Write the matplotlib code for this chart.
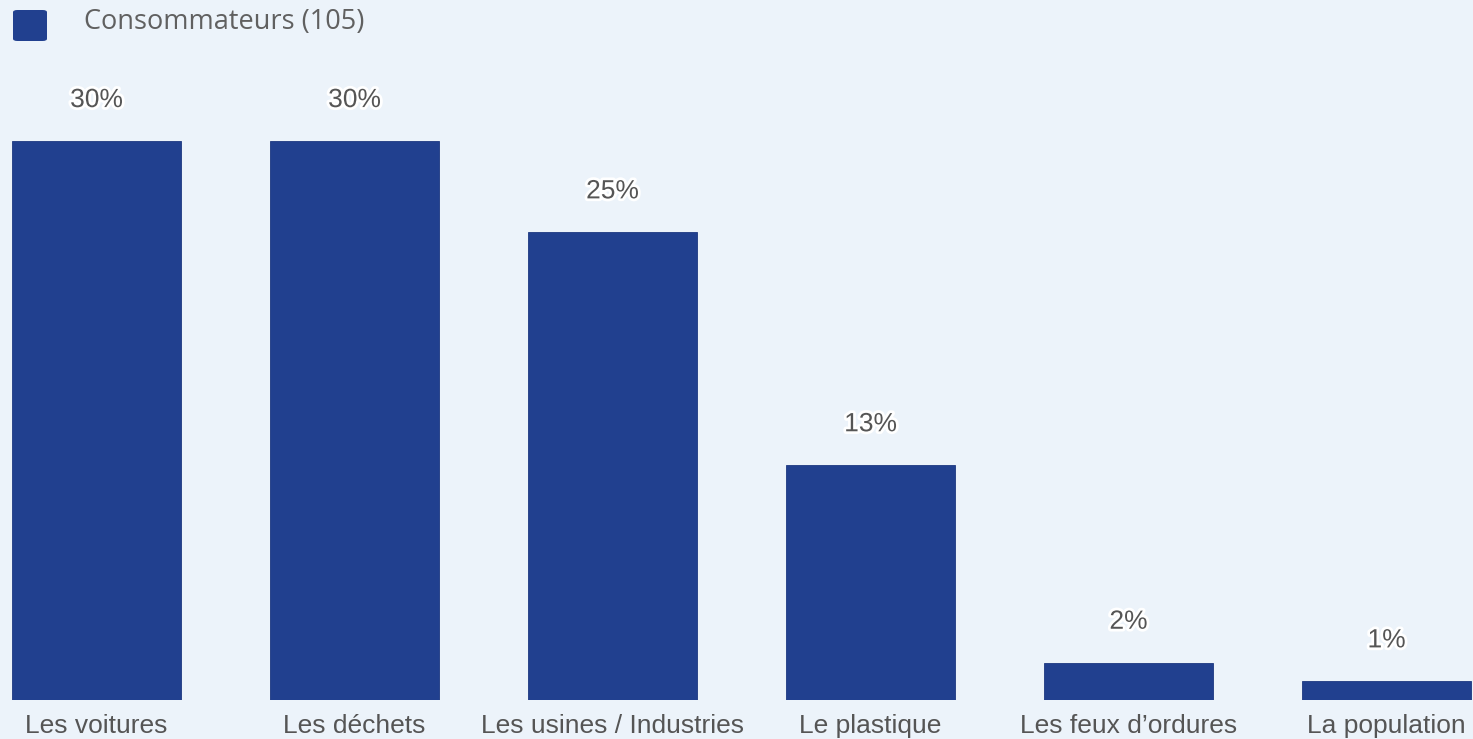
import matplotlib
matplotlib.use("Agg")
import matplotlib.pyplot as plt
import matplotlib.patheffects as pe
from matplotlib.patches import FancyBboxPatch

categories = ["Les voitures", "Les déchets", "Les usines / Industries",
              "Le plastique", "Les feux d’ordures", "La population"]
values = [30.0, 30.0, 25.1, 12.6, 2.0, 1.0]
series_name = "Consommateurs (105)"

bg = "#ecf3fa"
bar_color = "#21408f"
text_color = "#555555"

fig = plt.figure(figsize=(14.73, 7.39), dpi=100, facecolor=bg)
ax = fig.add_axes([0, 39 / 739, 1, 700 / 739])
ax.set_facecolor(bg)

x = list(range(len(categories)))
bars = ax.bar(x, values, width=0.655, color=bar_color, edgecolor="#1c3880", linewidth=0.6)

ax.set_xlim(-0.374, 5.335)
ax.set_ylim(0, 37.57)
for s in ax.spines.values():
    s.set_visible(False)
ax.set_yticks([])
ax.set_xticks(x)
ax.set_xticklabels(categories, fontsize=19, color=text_color, family="Liberation Sans")
ax.tick_params(axis="x", length=0, pad=10)

for xi, v in zip(x, values):
    ax.annotate(f"{round(v)}%", (xi, v), xytext=(0, 29.5), textcoords="offset points",
                ha="center", va="center", fontsize=19, color=text_color,
                family="Liberation Sans",
                path_effects=[pe.withStroke(linewidth=4, foreground="white")])

# legend
fig.patches.append(FancyBboxPatch((13 / 1473, 1 - 41 / 739), 34 / 1473, 31 / 739,
                                  boxstyle="round,pad=0,rounding_size=0.003",
                                  transform=fig.transFigure, facecolor=bar_color,
                                  edgecolor="none"))
fig.text(84 / 1473, 1 - 22 / 739, series_name, fontsize=19.5, color="#606060",
         family="Open Sans", va="center", ha="left")

fig.savefig("out.png", dpi=100, facecolor=bg)
